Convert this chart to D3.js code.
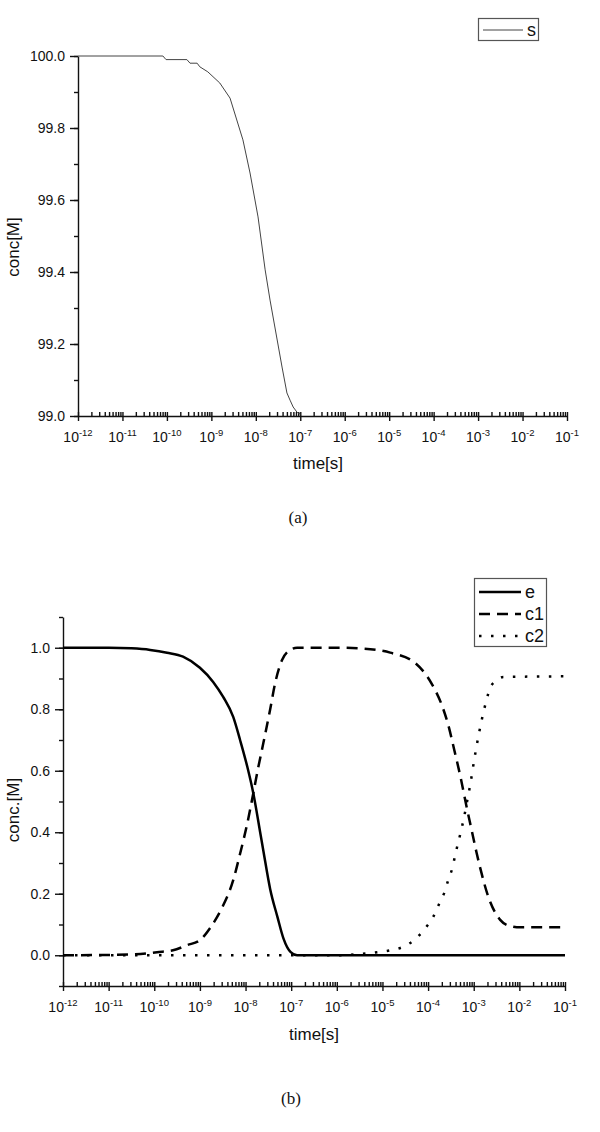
<!DOCTYPE html>
<html>
<head>
<meta charset="utf-8">
<script src="https://cdn.jsdelivr.net/npm/d3@7"></script>
<style>
  body { margin: 0; background: #fff; }
  svg { display: block; }
  .axis path, .axis line { stroke: #111; stroke-width: 1.4; }
</style>
</head>
<body>
<svg id="fig" width="600" height="1132"></svg>
<script>
// --- data (exponent of time in s, concentration in M) ---
const decades = d3.range(-12, 0);                 // 10^-12 .. 10^-1
const sLogT = [-12, -10.09, -10.02, -9.55, -9.48, -9.32, -9.26, -9.08, -8.81, -8.58, -8.29, -8.13, -7.95, -7.79, -7.68, -7.41, -7.30, -7.23, -7.16, -7.07, -7.00];
const sConc = [100, 100, 99.99, 99.99, 99.98, 99.98, 99.97, 99.956, 99.925, 99.883, 99.767, 99.675, 99.553, 99.406, 99.322, 99.136, 99.064, 99.044, 99.025, 99.01, 99.005];

const eLogT = [-12, -11, -10.5, -10.09, -9.72, -9.37, -9.0, -8.71, -8.49, -8.27, -8.12, -7.96, -7.83, -7.68, -7.61, -7.46, -7.30, -7.17, -7.01, -6.87, -1];
const eConc = [1, 1, 0.998, 0.993, 0.984, 0.971, 0.935, 0.889, 0.84, 0.775, 0.70, 0.612, 0.527, 0.40, 0.34, 0.215, 0.124, 0.055, 0.01, 0, 0];

const c1LogT = [-12, -11, -10.3, -9.94, -9.59, -9.28, -9.0, -8.78, -8.51, -8.27, -8.12, -7.96, -7.83, -7.72, -7.61, -7.46, -7.35, -7.20, -7.02, -6.87, -6.0, -5.5, -4.83, -4.28, -3.91, -3.69, -3.56, -3.43, -3.29, -3.16, -3.05, -2.94, -2.86, -2.68, -2.42, -2.2, -1.98, -1];
const c1Conc = [0, 0.001, 0.004, 0.01, 0.016, 0.033, 0.049, 0.088, 0.156, 0.244, 0.33, 0.43, 0.527, 0.612, 0.69, 0.80, 0.886, 0.96, 0.993, 1.0, 1.0, 0.998, 0.984, 0.95, 0.88, 0.81, 0.75, 0.67, 0.58, 0.485, 0.41, 0.335, 0.285, 0.19, 0.115, 0.095, 0.091, 0.091];

const c2LogT = [-12, -6, -5.33, -5.09, -4.83, -4.57, -4.30, -4.06, -3.89, -3.75, -3.64, -3.56, -3.47, -3.40, -3.29, -3.21, -3.14, -3.07, -2.99, -2.90, -2.81, -2.72, -2.64, -2.53, -2.35, -1];
const c2Conc = [0, 0, 0.006, 0.01, 0.016, 0.026, 0.05, 0.088, 0.124, 0.17, 0.205, 0.244, 0.283, 0.33, 0.397, 0.45, 0.505, 0.56, 0.635, 0.71, 0.775, 0.83, 0.87, 0.89, 0.905, 0.907];

const FONT = '"Liberation Sans", Arial, sans-serif';
const SERIF = '"Liberation Serif", "DejaVu Serif", serif';
const svg = d3.select('#fig');

function series(logT, conc) {
  return logT.map((lt, i) => ({ t: Math.pow(10, lt), v: conc[i] }));
}

function minorTicks() {
  const out = [];
  decades.forEach(d => { if (d < -1) for (let m = 2; m <= 9; m++) out.push(m * Math.pow(10, d)); });
  return out;
}

// log x axis: minor ticks inward, majors both sides, labels 10^n
function drawTimeAxis(g, x, y0) {
  const majors = decades.map(d => Math.pow(10, d));
  g.append('g').attr('class', 'axis').attr('transform', `translate(0,${y0})`)
    .call(d3.axisBottom(x).tickValues(majors.concat(minorTicks())).tickSize(-4).tickSizeOuter(0).tickFormat(''));
  g.append('g').attr('class', 'axis').attr('transform', `translate(0,${y0})`)
    .call(d3.axisBottom(x).tickValues(majors).tickSize(5).tickSizeOuter(0).tickFormat(''))
    .select('.domain').remove();
  const lab = g.append('g').selectAll('text').data(decades).join('text')
    .attr('x', d => x(Math.pow(10, d)))
    .attr('y', y0 + 26)
    .attr('text-anchor', 'middle')
    .attr('font-family', FONT).attr('font-size', 14).attr('fill', '#111');
  lab.append('tspan').text('10');
  lab.append('tspan').attr('dy', -6).attr('font-size', 9.5).text(d => d);
}

function drawConcAxis(g, y, x0, majors, minors) {
  g.append('g').attr('class', 'axis').attr('transform', `translate(${x0},0)`)
    .call(d3.axisLeft(y).tickValues(minors).tickSize(4).tickSizeOuter(0).tickFormat(''));
  g.append('g').attr('class', 'axis').attr('transform', `translate(${x0},0)`)
    .call(d3.axisLeft(y).tickValues(majors).tickSize(8).tickPadding(5).tickSizeOuter(0).tickFormat(d3.format('.1f')))
    .attr('font-family', FONT).attr('font-size', 14)
    .call(a => a.selectAll('text').attr('fill', '#111'))
    .select('.domain').remove();
}

function label(g, txt, x, y, rot) {
  g.append('text')
    .attr('transform', `translate(${x},${y})` + (rot ? ' rotate(-90)' : ''))
    .attr('text-anchor', 'middle')
    .attr('font-family', FONT).attr('font-size', 17).attr('fill', '#111')
    .text(txt);
}

// ---------------- (a) ----------------
const xa = d3.scaleLog().domain([1e-12, 1e-1]).range([78, 567]);
const ya = d3.scaleLinear().domain([99, 100]).range([416, 56]);
const ga = svg.append('g');

drawConcAxis(ga, ya, 78, d3.range(0, 6).map(i => 99 + i * 0.2), d3.range(0, 11).map(i => 99 + i * 0.1));
drawTimeAxis(ga, xa, 416);

ga.append('path')
  .datum(series(sLogT, sConc))
  .attr('fill', 'none').attr('stroke', '#444').attr('stroke-width', 1)
  .attr('d', d3.line().x(d => xa(d.t)).y(d => ya(d.v)));

label(ga, 'time[s]', 318, 469, false);
label(ga, 'conc[M]', 19, 247, true);

// legend (a)
ga.append('rect').attr('x', 478.5).attr('y', 18.5).attr('width', 60).attr('height', 22)
  .attr('fill', '#fff').attr('stroke', '#555').attr('stroke-width', 1.2);
ga.append('line').attr('x1', 483).attr('x2', 523).attr('y1', 30).attr('y2', 30)
  .attr('stroke', '#444').attr('stroke-width', 1);
ga.append('text').attr('x', 527).attr('y', 36)
  .attr('font-family', FONT).attr('font-size', 18).attr('fill', '#111').text('s');

svg.append('text').attr('x', 298).attr('y', 523).attr('text-anchor', 'middle')
  .attr('font-family', SERIF).attr('font-size', 17).attr('fill', '#111').text('(a)');

// ---------------- (b) ----------------
const xb = d3.scaleLog().domain([1e-12, 1e-1]).range([63, 565]);
const yb = d3.scaleLinear().domain([-0.1, 1.1]).range([986, 617]);
const gb = svg.append('g');

drawConcAxis(gb, yb, 63, d3.range(0, 6).map(i => i * 0.2), d3.range(0, 13).map(i => -0.1 + i * 0.1));
drawTimeAxis(gb, xb, 986);

const lineB = d3.line().x(d => xb(d.t)).y(d => yb(d.v)).curve(d3.curveMonotoneX);
const styles = [
  { name: 'e',  logT: eLogT,  conc: eConc,  dash: null },
  { name: 'c1', logT: c1LogT, conc: c1Conc, dash: '11,7' },
  { name: 'c2', logT: c2LogT, conc: c2Conc, dash: '2.5,9.5' }
];

styles.forEach(s => {
  gb.append('path')
    .datum(series(s.logT, s.conc))
    .attr('fill', 'none').attr('stroke', '#000').attr('stroke-width', 2.5)
    .attr('stroke-dasharray', s.dash)
    .attr('d', lineB);
});

label(gb, 'time[s]', 314, 1040, false);
label(gb, 'conc.[M]', 19, 810, true);

// legend (b)
gb.append('rect').attr('x', 474.5).attr('y', 578.5).attr('width', 72).attr('height', 68)
  .attr('fill', '#fff').attr('stroke', '#555').attr('stroke-width', 1.2);
styles.forEach((s, i) => {
  const ly = 592 + i * 22;
  gb.append('line').attr('x1', 479).attr('x2', 521).attr('y1', ly).attr('y2', ly)
    .attr('stroke', '#000').attr('stroke-width', 2.5).attr('stroke-dasharray', s.dash);
  gb.append('text').attr('x', 525).attr('y', ly + 6)
    .attr('font-family', FONT).attr('font-size', 18).attr('fill', '#111').text(s.name);
});

svg.append('text').attr('x', 291).attr('y', 1104).attr('text-anchor', 'middle')
  .attr('font-family', SERIF).attr('font-size', 17).attr('fill', '#111').text('(b)');
</script>
</body>
</html>
